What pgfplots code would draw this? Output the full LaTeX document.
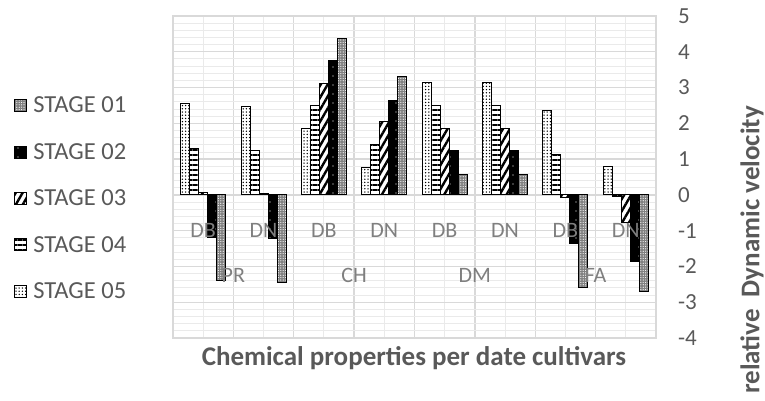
\documentclass[border=0pt]{standalone}
\usepackage{pgfplots}
\pgfplotsset{compat=1.18}
\usetikzlibrary{patterns,patterns.meta}
\usepackage{fontspec}
\setmainfont{Carlito}
\definecolor{txt}{HTML}{595959}
\definecolor{lbl}{HTML}{7F7F7F}
\definecolor{grd}{HTML}{D9D9D9}
\definecolor{grdm}{HTML}{EAEAEA}

\pgfplotstableread{
x  s5    s4    s3    s2    s1
0  2.56  1.30  0.07 -1.19 -2.40
1  2.47  1.24  0.05 -1.21 -2.45
2  1.86  2.50  3.12  3.77  4.38
3  0.77  1.40  2.05  2.65  3.31
4  3.15  2.50  1.86  1.24  0.58
5  3.15  2.50  1.86  1.24  0.58
6  2.35  1.12 -0.06 -1.37 -2.59
7  0.79 -0.04 -0.77 -1.87 -2.71
}\datatable

\pgfplotsset{
  lg/.style={legend image code/.code={\draw[##1, line width=1pt] (0pt,-6pt) rectangle (12pt,6pt);}},
}

\begin{document}
\begin{tikzpicture}[font=\fontsize{22}{26}\selectfont]
\useasboundingbox (0,0) rectangle (765pt,400pt);
\begin{axis}[
  at={(173pt,62pt)}, anchor=south west,
  scale only axis, width=483pt, height=322pt,
  xmin=-0.5, xmax=7.5, ymin=-4, ymax=5,
  xtick={-0.5,0.5,...,7.5}, xticklabels={},
  minor xtick={0,1,...,7},
  ytick={-4,-3,...,5}, minor y tick num=4,
  grid=both,
  major grid style={grd, line width=1.3pt},
  minor grid style={grdm, line width=0.9pt},
  axis line style={grd, line width=1.3pt},
  major tick length=0pt, minor tick length=0pt,
  yticklabel pos=right,
  yticklabel={\hspace*{22pt}\pgfmathprintnumber{\tick}},
  yticklabel style={text=txt, anchor=west, inner sep=0pt,
    font=\fontsize{23}{26}\selectfont},
  /pgf/number format/assume math mode=true,
  ybar=0pt, bar width=9pt,
  reverse legend,
  legend style={at={(axis description cs:-0.329,0.755)}, anchor=north west,
    draw=none, fill=none, text=txt, row sep=25pt,
    font=\fontsize{24.5}{26}\selectfont,
    /tikz/every odd column/.append style={column sep=4pt},
    cells={anchor=west}, inner sep=0pt},
]
\addplot[lg, draw=black, line width=1pt, fill=white,
  postaction={pattern={Dots[distance=3.2pt, radius=0.75pt]}, pattern color=black}]
  table[x=x, y=s5] {\datatable};
\addlegendentry{STAGE 05}
\addplot[lg, draw=black, line width=1pt, fill=white,
  postaction={pattern={Lines[angle=0, distance=5pt, line width=2.4pt]}, pattern color=black}]
  table[x=x, y=s4] {\datatable};
\addlegendentry{STAGE 04}
\addplot[lg, draw=black, line width=1pt, fill=white,
  postaction={pattern={Lines[angle=60, distance=6pt, line width=2.4pt]}, pattern color=black}]
  table[x=x, y=s3] {\datatable};
\addlegendentry{STAGE 03}
\addplot[lg, draw=black, line width=1pt, fill=black,
  postaction={pattern={Dots[distance=9pt, radius=0.6pt]}, pattern color=white}]
  table[x=x, y=s2] {\datatable};
\addlegendentry{STAGE 02}
\addplot[lg, draw=black, line width=1pt, fill=black!50,
  postaction={pattern={Dots[distance=2.4pt, radius=0.6pt]}, pattern color=white}]
  table[x=x, y=s1] {\datatable};
\addlegendentry{STAGE 01}

\node[text=lbl] at (axis cs:0,-1) {DB};
\node[text=lbl] at (axis cs:1,-1) {DN};
\node[text=lbl] at (axis cs:2,-1) {DB};
\node[text=lbl] at (axis cs:3,-1) {DN};
\node[text=lbl] at (axis cs:4,-1) {DB};
\node[text=lbl] at (axis cs:5,-1) {DN};
\node[text=lbl] at (axis cs:6,-1) {DB};
\node[text=lbl] at (axis cs:7,-1) {DN};
\node[text=lbl] at (axis cs:0.5,-2.25) {PR};
\node[text=lbl] at (axis cs:2.5,-2.25) {CH};
\node[text=lbl] at (axis cs:4.5,-2.25) {DM};
\node[text=lbl] at (axis cs:6.5,-2.25) {FA};
\end{axis}
\node[font=\fontsize{27}{30}\selectfont\bfseries, text=txt] at (414pt,42pt) {Chemical properties per date cultivars};
\node[font=\fontsize{27}{30}\selectfont\bfseries, text=txt, rotate=90] at (752pt,150pt) {relative\ \ Dynamic velocity};
\end{tikzpicture}
\end{document}
